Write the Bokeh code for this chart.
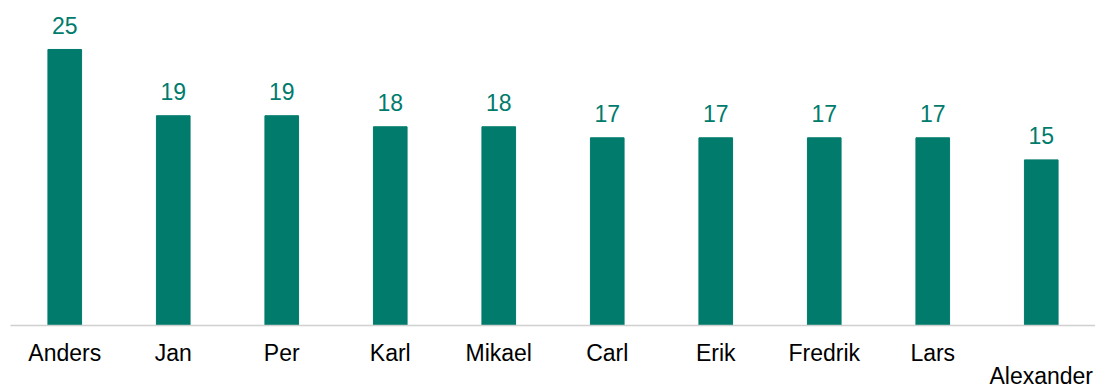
from bokeh.plotting import figure
from bokeh.models import ColumnDataSource, FactorRange, Range1d, CategoricalAxis, CustomJSTickFormatter
from bokeh.core.properties import value
from bokeh.embed import file_html
from bokeh.resources import INLINE

names = ["Anders", "Jan", "Per", "Karl", "Mikael", "Carl", "Erik", "Fredrik", "Lars", "Alexander"]
counts = [25, 19, 19, 18, 18, 17, 17, 17, 17, 15]
labels = [str(c) for c in counts]
second_row = ["Alexander"]

teal = "#007B6C"
src = ColumnDataSource(dict(x=names, top=counts, lab=labels))

p = figure(x_range=FactorRange(*names, range_padding=0), y_range=Range1d(0, 28.53),
           width=1095, height=391, output_backend="svg", toolbar_location=None,
           min_border_left=10, min_border_right=0, min_border_top=10, min_border_bottom=0)
p.vbar(x="x", top="top", width=0.31, source=src, color=teal)
p.text(x="x", y="top", text="lab", source=src, text_align="center", text_baseline="alphabetic",
       y_offset=-24, text_color=teal, text_font=value("Liberation Sans"), text_font_size="23px")

p.yaxis.visible = False
p.xgrid.visible = False
p.ygrid.visible = False
p.outline_line_color = None


def style(ax, standoff):
    ax.major_tick_line_color = None
    ax.minor_tick_line_color = None
    ax.major_tick_out = 0
    ax.major_tick_in = 0
    ax.major_label_standoff = standoff
    ax.major_label_text_font = "Liberation Sans"
    ax.major_label_text_font_size = "23px"
    ax.major_label_text_color = "#000000"


ax = p.xaxis[0]
style(ax, 14)
ax.axis_line_color = "#d0d0d0"
ax.axis_line_width = 1.5
ax.formatter = CustomJSTickFormatter(args=dict(skip=second_row),
                                     code="return skip.includes(tick) ? '' : tick;")

ax2 = CategoricalAxis()
style(ax2, -6)
ax2.axis_line_color = None
ax2.formatter = CustomJSTickFormatter(args=dict(keep=second_row),
                                      code="return keep.includes(tick) ? tick : '';")
p.add_layout(ax2, "below")

open("out.html", "w").write(file_html(p, INLINE))
